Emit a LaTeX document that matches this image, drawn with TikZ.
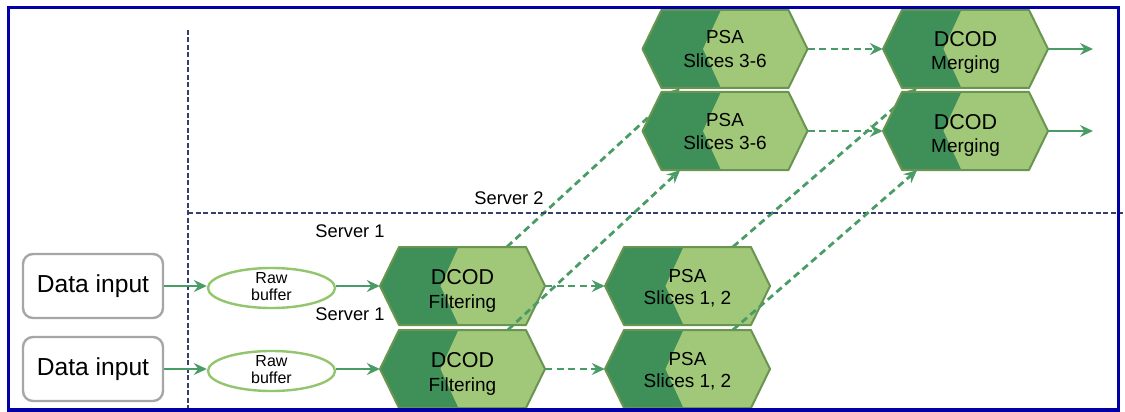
\documentclass[tikz,border=0pt]{standalone}
\usepackage{fontspec}
\setmainfont{Liberation Sans}
\usetikzlibrary{arrows.meta,calc,shapes.geometric}
\pgfdeclarelayer{background}
\pgfsetlayers{background,main}
\definecolor{darkg}{HTML}{3F8F58}
\definecolor{lightg}{HTML}{A0C878}
\definecolor{hexline}{HTML}{6A9550}
\definecolor{arrowg}{HTML}{4A9C66}
\definecolor{framebl}{HTML}{0000A5}
\definecolor{sepcol}{HTML}{34406A}
\definecolor{boxgray}{HTML}{A6A6A6}
\definecolor{ellg}{HTML}{93C56E}
\tikzset{
 hexlabel/.style={rectangle, minimum width=165pt, minimum height=78pt, inner sep=0pt},
 solidarrow/.style={draw=arrowg, line width=2.8pt, -{Stealth[length=13pt,width=12pt,inset=4.5pt]}},
 dasharrow/.style={solidarrow, dash pattern=on 7pt off 4.5pt},
 sepline/.style={draw=sepcol, line width=1.6pt, dash pattern=on 5pt off 2.5pt},
 inbox/.style={draw=boxgray, line width=2.4pt, rounded corners=10pt, minimum width=140pt, minimum height=64pt, fill=white, inner sep=0pt, font=\fontsize{24.6}{28}\selectfont},
 bufell/.style={ellipse, draw=ellg, line width=2.4pt, minimum width=127pt, minimum height=40pt, fill=white, inner sep=0pt},
 buftext/.style={anchor=base, inner sep=0pt, font=\fontsize{16}{16}\selectfont},
 srvlabel/.style={inner sep=0pt, font=\fontsize{18.3}{22}\selectfont},
}
\newcommand{\hexnode}[7]{%
 \begin{scope}[shift={#2}]
  \fill[darkg] (-82.5,0) -- (-63.5,-39) -- (63.5,-39) -- (82.5,0) -- (63.5,39) -- (-63.5,39) -- cycle;
  \fill[lightg] (-4,-39) -- (63.5,-39) -- (82.5,0) -- (63.5,39) -- (-4,39) -- (-22,0) -- cycle;
  \draw[hexline, line width=2pt, line join=round] (-82.5,0) -- (-63.5,-39) -- (63.5,-39) -- (82.5,0) -- (63.5,39) -- (-63.5,39) -- cycle;
  \node[hexlabel] (#1) at (0,0) {};
  \node[anchor=base, inner sep=0pt, font=\fontsize{#4}{#4}\selectfont] (#1-t) at (0,#5) {#3};
  \node[anchor=base, inner sep=0pt, font=\fontsize{19}{19}\selectfont] (#1-s) at (0,#7) {#6};
 \end{scope}}
\begin{document}
\begin{tikzpicture}[x=1pt,y=-1pt]
\useasboundingbox (0,0) rectangle (1125,412);
\begin{pgfonlayer}{background}
 \fill[white] (0,0) rectangle (1125,412);
\end{pgfonlayer}
% separators
\draw[sepline] (188,30) -- (188,410);
\draw[sepline] (188,213) -- (1123,213);
\node[srvlabel] (srv2) at (509,198) {Server 2};
\node[srvlabel] (srv1a) at (350,231) {Server 1};
\node[srvlabel] (srv1b) at (350,314) {Server 1};
% inputs
\node[inbox] (d1) at (93,286) {Data input};
\node[inbox] (d2) at (93,369) {Data input};
\node[bufell] (b1) at (271.5,288) {};
\node[buftext] (b1-t) at (271.5,283) {Raw};
\node[buftext] (b1-s) at (271.5,300) {buffer};
\node[bufell] (b2) at (271.5,371) {};
\node[buftext] (b2-t) at (271.5,366) {Raw};
\node[buftext] (b2-s) at (271.5,383) {buffer};
% hexagons
\hexnode{f1}{(462.5,286)}{DCOD}{21.5}{-2}{Filtering}{22}
\hexnode{f2}{(462.5,369)}{DCOD}{21.5}{-2}{Filtering}{22}
\hexnode{p1}{(687.5,286)}{PSA}{18.8}{-4}{Slices 1, 2}{18}
\hexnode{p2}{(687.5,369)}{PSA}{18.8}{-4}{Slices 1, 2}{18}
\hexnode{s1}{(725,49)}{PSA}{18.8}{-5}{Slices 3-6}{18}
\hexnode{s2}{(725,131)}{PSA}{18.8}{-5}{Slices 3-6}{18}
\hexnode{m1}{(965.5,49)}{DCOD}{21.5}{-2}{Merging}{21}
\hexnode{m2}{(965.5,131)}{DCOD}{21.5}{-2}{Merging}{21}
% solid connectors
\draw[solidarrow] (d1.east) -- (b1.west |- d1.east);
\draw[solidarrow] (d2.east) -- (b2.west |- d2.east);
\draw[solidarrow] (b1.east |- f1.west) -- (f1.west);
\draw[solidarrow] (b2.east |- f2.west) -- (f2.west);
\coordinate (o1) at (1093,49);
\coordinate (o2) at (1093,131);
\draw[solidarrow] (m1.east) -- (o1);
\draw[solidarrow] (m2.east) -- (o2);
% dashed connectors
\draw[dasharrow] (f1.east) -- (p1.west);
\draw[dasharrow] (f2.east) -- (p2.west);
\draw[dasharrow] (s1.east) -- (m1.west);
\draw[dasharrow] (s2.east) -- (m2.west);
\begin{pgfonlayer}{background}
 \draw[dasharrow] ($(f1.north)+(44.5,0)$) -- ($(s1.south)+(-45,0)$);
 \draw[dasharrow] ($(p1.north)+(45.5,0)$) -- ($(m1.south)+(-48.5,0)$);
\end{pgfonlayer}
\draw[dasharrow] ($(f2.north)+(45.5,0)$) -- ($(s2.south)+(-45,0)$);
\draw[dasharrow] ($(p2.north)+(45.5,0)$) -- ($(m2.south)+(-48.5,0)$);
% frame
\draw[framebl, line width=3.2pt] (8.5,7.5) rectangle (1118.5,410);
\end{tikzpicture}
\end{document}
